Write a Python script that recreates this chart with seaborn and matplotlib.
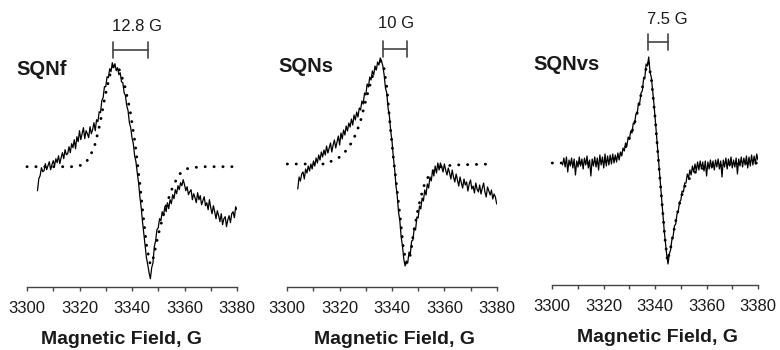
import matplotlib
matplotlib.use("Agg")
import numpy as np
import pandas as pd
import seaborn as sns
import matplotlib.pyplot as plt
from matplotlib.ticker import MultipleLocator

# measured spectra, one value every 0.5 G from 3304 to 3380 G (arbitrary units)
field = np.arange(3304, 3380.5, 0.5)

sqnf_signal = [
    -24, -12, -9, -1, -5, -4, 3, -3, 1, 5, -3, 2, 6, 1, 8, 4, 11, 3, 9, 14,
    8, 17, 12, 13, 20, 14, 23, 19, 27, 18, 30, 25, 36, 27, 33, 39, 28, 36, 33, 29,
    40, 33, 37, 44, 36, 47, 45, 55, 54, 66, 69, 80, 80, 90, 89, 98, 95, 104, 99, 103,
    96, 99, 92, 94, 85, 84, 74, 71, 61, 56, 44, 39, 29, 23, 11, 5, -6, -16, -30, -41,
    -55, -67, -80, -91, -98, -106, -112, -101, -96, -80, -74, -63, -61, -52, -54, -45, -49, -40, -45, -36,
    -42, -33, -37, -28, -32, -23, -27, -19, -23, -16, -19, -13, -18, -24, -20, -28, -25, -23, -33, -27,
    -31, -36, -26, -33, -29, -38, -34, -30, -39, -36, -43, -33, -41, -47, -39, -45, -52, -44, -49, -55,
    -47, -58, -52, -50, -60, -53, -49, -56, -47, -45, -51, -40, -43]

sqns_signal = [
    -25, -13, -17, -10, -8, -15, -5, -9, -2, -7, 0, -5, 3, -2, 6, 1, 9, 4, 12, 7,
    14, 9, 18, 11, 16, 21, 12, 19, 24, 16, 22, 28, 19, 31, 25, 34, 29, 38, 33, 41,
    37, 45, 39, 49, 44, 52, 47, 56, 54, 63, 60, 71, 69, 80, 77, 87, 84, 93, 89, 98,
    94, 102, 99, 106, 103, 98, 89, 76, 71, 56, 48, 33, 23, 7, -5, -21, -32, -48, -57, -73,
    -82, -95, -102, -97, -99, -88, -90, -77, -76, -64, -66, -53, -54, -42, -45, -34, -37, -26, -31, -20,
    -24, -13, -17, -6, -12, -2, -9, 1, -6, 1, -3, -8, 0, -6, -11, -4, -9, -15, -6, -13,
    -18, -10, -16, -22, -13, -19, -24, -15, -21, -18, -27, -20, -16, -25, -22, -29, -19, -25, -28, -21,
    -30, -24, -19, -28, -33, -23, -27, -31, -26, -35, -30, -33, -40]

sqnvs_signal = [
    -2, 5, -4, 6, -9, 3, -3, 5, -5, 4, -12, 2, -4, 6, -3, 4, -6, 5, -2, 7,
    -5, 3, -13, 4, -3, 6, -4, 5, -7, 8, -2, 6, -5, 9, -3, 7, -2, 8, -1, 9,
    0, 8, 1, 10, 3, 11, 7, 15, 12, 20, 17, 26, 24, 32, 30, 40, 39, 49, 49, 60,
    60, 70, 72, 84, 86, 99, 97, 106, 91, 86, 73, 60, 45, 29, 13, -3, -20, -36, -52, -67,
    -80, -92, -101, -91, -87, -77, -73, -63, -61, -51, -48, -39, -37, -28, -29, -20, -20, -11, -15, -7,
    -12, -3, -9, -1, -8, 1, -7, 2, -6, 1, -8, 2, -13, 1, -6, 3, -5, 2, -7, 3,
    -4, 4, -6, 2, -14, 3, -4, 5, -6, 4, -3, 6, -5, 3, -4, 5, -11, 4, -3, 6,
    -4, 5, -2, 7, -5, 6, -3, 8, -2, 7, -1, 9, 3]

# simulated (fit) spectra
sqnf_fit_field = [3300, 3310, 3318, 3320, 3322, 3324, 3326, 3327.8, 3329.7, 3331.6, 3333, 3334,
                  3335.4, 3337.3, 3339.2, 3341.1, 3343.1, 3344.3, 3345.6, 3346.9, 3347.6, 3348.2,
                  3350.1, 3352, 3353.9, 3355.8, 3358.3, 3360.9, 3366, 3378.7]
sqnf_fit = [0, 0, 0, 1, 3, 10, 23, 43, 70, 92, 101, 101, 96, 80, 57, 25, -20, -50, -80, -97,
            -97, -90, -67, -48, -32, -18, -7, -2, 0, 0]

sqns_fit_field = [3300, 3315, 3317.6, 3320.1, 3322.7, 3325.2, 3327.8, 3330.3, 3332.9, 3334.8, 3335.7,
                  3336.7, 3338, 3339.2, 3340.5, 3341.8, 3343.1, 3344.3, 3345.4, 3346.2, 3347.1,
                  3348.2, 3350.1, 3352, 3354.5, 3358.3, 3363.4, 3378.7]
sqns_fit = [0, 0, 4, 7, 14, 24, 41, 67, 91, 101, 103, 100, 77, 41, 7, -23, -53, -83, -99, -97,
            -90, -69, -43, -23, -9, -3, -1, 0]

sqnvs_fit_field = [3300, 3318, 3322, 3326, 3329, 3331.5, 3333.5, 3335, 3336.5, 3337.3, 3338.5, 3340,
                   3341.2, 3342.5, 3343.8, 3344.8, 3346, 3348, 3350, 3352, 3355, 3360, 3370, 3380]
sqnvs_fit = [0, 0, 2, 6, 18, 35, 55, 75, 95, 101, 85, 45, 5, -35, -75, -98, -85, -58, -35, -20,
             -10, -4, -1, 0]

names = ["SQNf", "SQNs", "SQNvs"]
widths = ["12.8 G", "10 G", "7.5 G"]

sns.set_theme(style="white")
plt.rcParams["font.family"] = ["Liberation Sans", "DejaVu Sans"]

fig = plt.figure(figsize=(7.8, 3.5), dpi=100)

panels = [
    dict(rect=[27 / 780, 63 / 350, 210 / 780, 287 / 350], ylim=(-120.3, 166.7),
         signal=sqnf_signal, fit_x=sqnf_fit_field, fit=sqnf_fit,
         bar=(3332.6, 3346.2, 117), label_xy=(3341.9, 140), name_xy=(16, 69.5),
         xlab=(0.45, -0.153)),
    dict(rect=[287.3 / 780, 63 / 350, 209.4 / 780, 287 / 350], ylim=(-123, 164),
         signal=sqns_signal, fit_x=sqns_fit_field, fit=sqns_fit,
         bar=(3336.4, 3345.6, 115), label_xy=(3341.4, 141), name_xy=(278, 67),
         xlab=(0.51, -0.153)),
    dict(rect=[552.3 / 780, 65 / 350, 205.7 / 780, 285 / 350], ylim=(-122, 163),
         signal=sqnvs_signal, fit_x=sqnvs_fit_field, fit=sqnvs_fit,
         bar=(3337.4, 3345.1, 121), label_xy=(3344.6, 143), name_xy=(533, 65),
         xlab=(0.509, -0.153)),
]

ink = "#1a1a1a"

for p, name, width in zip(panels, names, widths):
    ax = fig.add_axes(p["rect"])
    exp = pd.DataFrame({"field": field, "signal": p["signal"]})
    sim = pd.DataFrame({"field": p["fit_x"], "signal": p["fit"]})

    sns.lineplot(data=sim, x="field", y="signal", ax=ax, color="black",
                 linewidth=2.1, linestyle=(0, (0.05, 3.0)), dash_capstyle="round", clip_on=False)
    sns.lineplot(data=exp, x="field", y="signal", ax=ax, color="black", linewidth=0.9)

    ax.set_xlim(3300, 3380)
    ax.set_ylim(*p["ylim"])
    ax.set_yticks([])
    ax.set_ylabel("")
    ax.set_xticks([3300, 3320, 3340, 3360, 3380])
    ax.xaxis.set_minor_locator(MultipleLocator(10))
    ax.tick_params(axis="x", which="both", direction="out", length=3.2, width=1,
                   color="#444444", bottom=True, labelsize=12, pad=7, labelcolor=ink)
    for side in ["top", "left", "right"]:
        ax.spines[side].set_visible(False)
    ax.spines["bottom"].set_color("#444444")
    ax.spines["bottom"].set_linewidth(1)
    ax.set_xlabel("Magnetic Field, G", fontsize=14, fontweight="bold", color=ink)
    ax.xaxis.set_label_coords(*p["xlab"])
    ax.patch.set_alpha(0)

    # linewidth bar
    x0, x1, yb = p["bar"]
    ax.plot([x0, x1], [yb, yb], color="#444444", linewidth=1.2, clip_on=False)
    ax.plot([x0, x0], [yb - 8, yb + 8], color="#444444", linewidth=1.2, clip_on=False)
    ax.plot([x1, x1], [yb - 8, yb + 8], color="#444444", linewidth=1.2, clip_on=False)
    ax.text(p["label_xy"][0], p["label_xy"][1], width, ha="center", va="center",
            fontsize=12, color=ink, clip_on=False)

    nx, ny = p["name_xy"]
    fig.text(nx / 780, 1 - ny / 350, name, ha="left", va="center",
             fontsize=14.5, fontweight="bold", color=ink)

fig.savefig("out.png", dpi=100)
